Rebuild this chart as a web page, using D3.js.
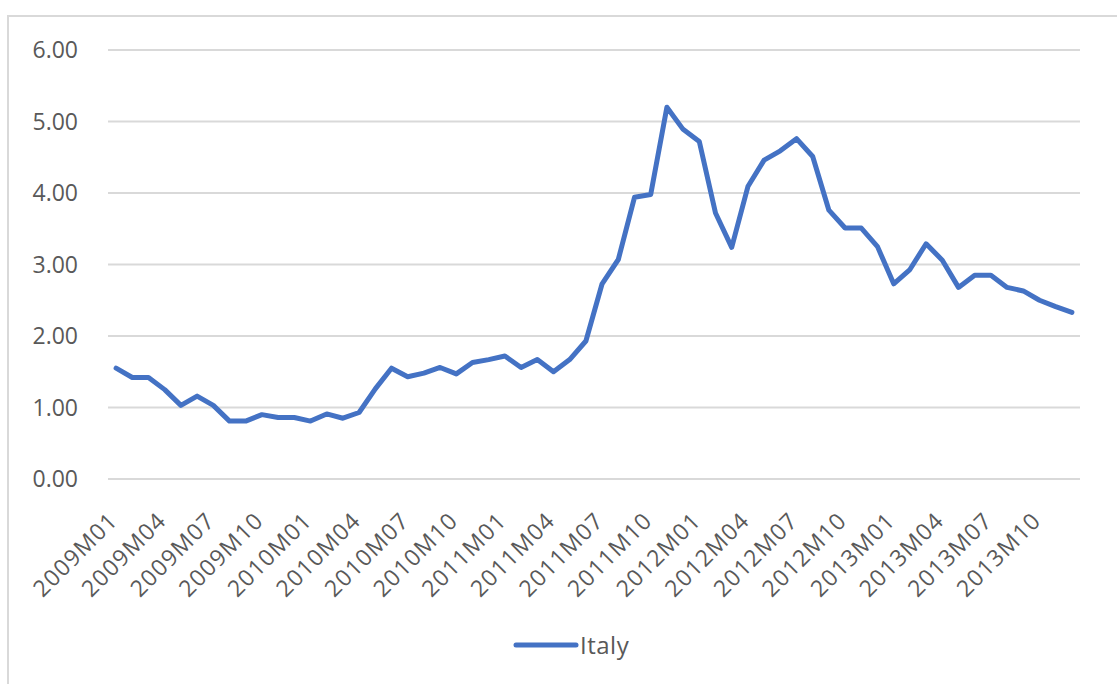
<!DOCTYPE html>
<html>
<head>
<meta charset="utf-8">
<script src="https://cdn.jsdelivr.net/npm/d3@7"></script>
<style>
  html, body { margin: 0; padding: 0; background: #ffffff; }
  svg { display: block; font-family: "Open Sans", "Noto Sans", sans-serif; }
</style>
</head>
<body>
<svg id="chart" width="1117" height="684"></svg>
<script>
// Monthly series, 2009M01 .. 2013M12
const years = [2009, 2010, 2011, 2012, 2013];
const months = ["01","02","03","04","05","06","07","08","09","10","11","12"];
const categories = years.flatMap(y => months.map(m => `${y}M${m}`));

const italy = [
  1.55, 1.42, 1.42, 1.25, 1.03, 1.16, 1.03, 0.81, 0.81, 0.90, 0.86, 0.86,
  0.81, 0.91, 0.85, 0.93, 1.26, 1.55, 1.43, 1.48, 1.56, 1.47, 1.63, 1.67,
  1.72, 1.56, 1.67, 1.50, 1.67, 1.93, 2.73, 3.07, 3.94, 3.98, 5.20, 4.89,
  4.72, 3.72, 3.24, 4.09, 4.46, 4.59, 4.76, 4.51, 3.76, 3.51, 3.51, 3.25,
  2.73, 2.93, 3.29, 3.06, 2.68, 2.85, 2.85, 2.68, 2.63, 2.50, 2.41, 2.33
];

const yTicks = [0, 1, 2, 3, 4, 5, 6];
const xTickLabels = categories.filter((d, i) => i % 3 === 0);
const seriesName = "Italy";

const textColor = "#595959";
const gridColor = "#d9d9d9";
const lineColor = "#4472C4";

const svg = d3.select("#chart");

// chart-area frame
svg.append("rect")
  .attr("x", 8).attr("y", 16)
  .attr("width", 1300).attr("height", 900)
  .attr("fill", "none")
  .attr("stroke", gridColor)
  .attr("stroke-width", 2);

const plot = { left: 108, right: 1080, top: 50, bottom: 479 };

const x = d3.scaleBand()
  .domain(categories)
  .range([plot.left, plot.right]);

const y = d3.scaleLinear()
  .domain([0, 6])
  .range([plot.bottom, plot.top]);

// horizontal gridlines
svg.append("g")
  .selectAll("line")
  .data(yTicks)
  .join("line")
  .attr("x1", plot.left).attr("x2", plot.right)
  .attr("y1", d => y(d)).attr("y2", d => y(d))
  .attr("stroke", gridColor)
  .attr("stroke-width", 2);

// y-axis labels
svg.append("g")
  .selectAll("text")
  .data(yTicks)
  .join("text")
  .attr("x", 78)
  .attr("y", d => y(d))
  .attr("dy", "0.36em")
  .attr("text-anchor", "end")
  .attr("fill", textColor)
  .style("font-size", "23px")
  .text(d => d3.format(".2f")(d));

// x-axis labels, rotated
svg.append("g")
  .selectAll("text")
  .data(xTickLabels)
  .join("text")
  .attr("transform", d => `translate(${x(d) + x.bandwidth() / 2 + 3},522) rotate(-45)`)
  .attr("text-anchor", "end")
  .attr("fill", textColor)
  .style("font-size", "23px")
  .style("letter-spacing", "1.2px")
  .text(d => d);

// series line
const line = d3.line()
  .x((d, i) => x(categories[i]) + x.bandwidth() / 2)
  .y(d => y(d));

svg.append("path")
  .datum(italy)
  .attr("d", line)
  .attr("fill", "none")
  .attr("stroke", lineColor)
  .attr("stroke-width", 5)
  .attr("stroke-linejoin", "round")
  .attr("stroke-linecap", "round");

// legend
const legend = svg.append("g");
legend.append("line")
  .attr("x1", 516).attr("x2", 576)
  .attr("y1", 645).attr("y2", 645)
  .attr("stroke", lineColor)
  .attr("stroke-width", 5)
  .attr("stroke-linecap", "round");
legend.append("text")
  .attr("x", 580).attr("y", 645)
  .attr("dy", "0.36em")
  .attr("fill", textColor)
  .style("font-size", "24px")
  .style("letter-spacing", "0.5px")
  .text(seriesName);
</script>
</body>
</html>
